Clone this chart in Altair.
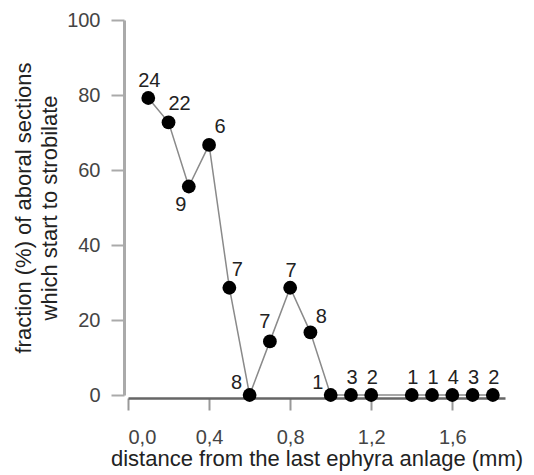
import altair as alt
import pandas as pd

# distance from the last ephyra anlage (mm)
distance = [0.1, 0.2, 0.3, 0.4, 0.5, 0.6, 0.7, 0.8, 0.9, 1.0, 1.1, 1.2, 1.4, 1.5, 1.6, 1.7, 1.8]
# fraction (%) of aboral sections which start to strobilate
fraction = [79.2, 72.7, 55.6, 66.7, 28.6, 0.0, 14.3, 28.6, 16.7, 0.0, 0.0, 0.0, 0.0, 0.0, 0.0, 0.0, 0.0]
# number of sections (point labels)
counts = ["24", "22", "9", "6", "7", "8", "7", "7", "8", "1", "3", "2", "1", "1", "4", "3", "2"]

x_ticks = [0.0, 0.4, 0.8, 1.2, 1.6]
y_ticks = [0, 20, 40, 60, 80, 100]

df = pd.DataFrame({"d": distance, "f": fraction, "n": counts, "i": list(range(len(distance)))})

# label placement (style, separate from data)
placements = {
    "above": ([0, 7, 10, 11, 12, 13, 14, 15, 16], 1, -17),
    "upright": ([1, 3], 11, -18),
    "upright2": ([4], 8, -18),
    "upright3": ([8], 11, -15),
    "lowleft": ([2], -8, 18),
    "upleft": ([5, 9], -13, -12),
    "upleft2": ([6], -5, -19),
}

FONT = "Liberation Sans"

x = alt.X("d:Q", scale=alt.Scale(domain=[0, 1.86], nice=False, zero=False),
          axis=alt.Axis(values=x_ticks, title="distance from the last ephyra anlage (mm)",
                        labelExpr="replace(format(datum.value, '.1f'), '.', ',')",
                        grid=False, offset=3, domainColor="#666", domainWidth=2.5,
                        tickColor="#999", tickWidth=2, tickSize=12, labelPadding=17,
                        labelFontSize=20, labelColor="#444", labelFont=FONT,
                        titleFontSize=22, titleFontWeight="normal", titleColor="#222",
                        titleFont=FONT, titlePadding=1))
y = alt.Y("f:Q", scale=alt.Scale(domain=[0, 100], nice=False),
          axis=alt.Axis(values=y_ticks, title=["fraction (%) of aboral sections", "which start to strobilate"],
                        grid=False, offset=4, domainColor="#aaa", domainWidth=3,
                        tickColor="#aaa", tickWidth=2, tickSize=13, labelPadding=11,
                        labelFontSize=20, labelColor="#444", labelFont=FONT,
                        titleFontSize=22, titleFontWeight="normal", titleColor="#222",
                        titleFont=FONT, titlePadding=5, titleLineHeight=26))

base = alt.Chart(df)
line = base.mark_line(color="#8a8a8a", strokeWidth=1.5).encode(x=x, y=y)
pts = base.mark_point(filled=True, color="black", size=190, opacity=1).encode(x="d:Q", y="f:Q")

layers = [line, pts]
for name, (idx, dx, dy) in placements.items():
    layers.append(
        base.transform_filter(alt.FieldOneOfPredicate(field="i", oneOf=idx))
        .mark_text(dx=dx, dy=dy, fontSize=20, font=FONT, color="#222", align="center", baseline="middle")
        .encode(x="d:Q", y="f:Q", text="n:N")
    )

chart = alt.layer(*layers).properties(
    width=377, height=375,
    background="white",
    autosize=alt.AutoSizeParams(type="none"),
    padding={"left": 120, "top": 12, "right": 21, "bottom": 80},
).configure_view(strokeWidth=0, strokeOpacity=0)

chart.save("out.html", embed_options={"renderer": "svg", "actions": False})
